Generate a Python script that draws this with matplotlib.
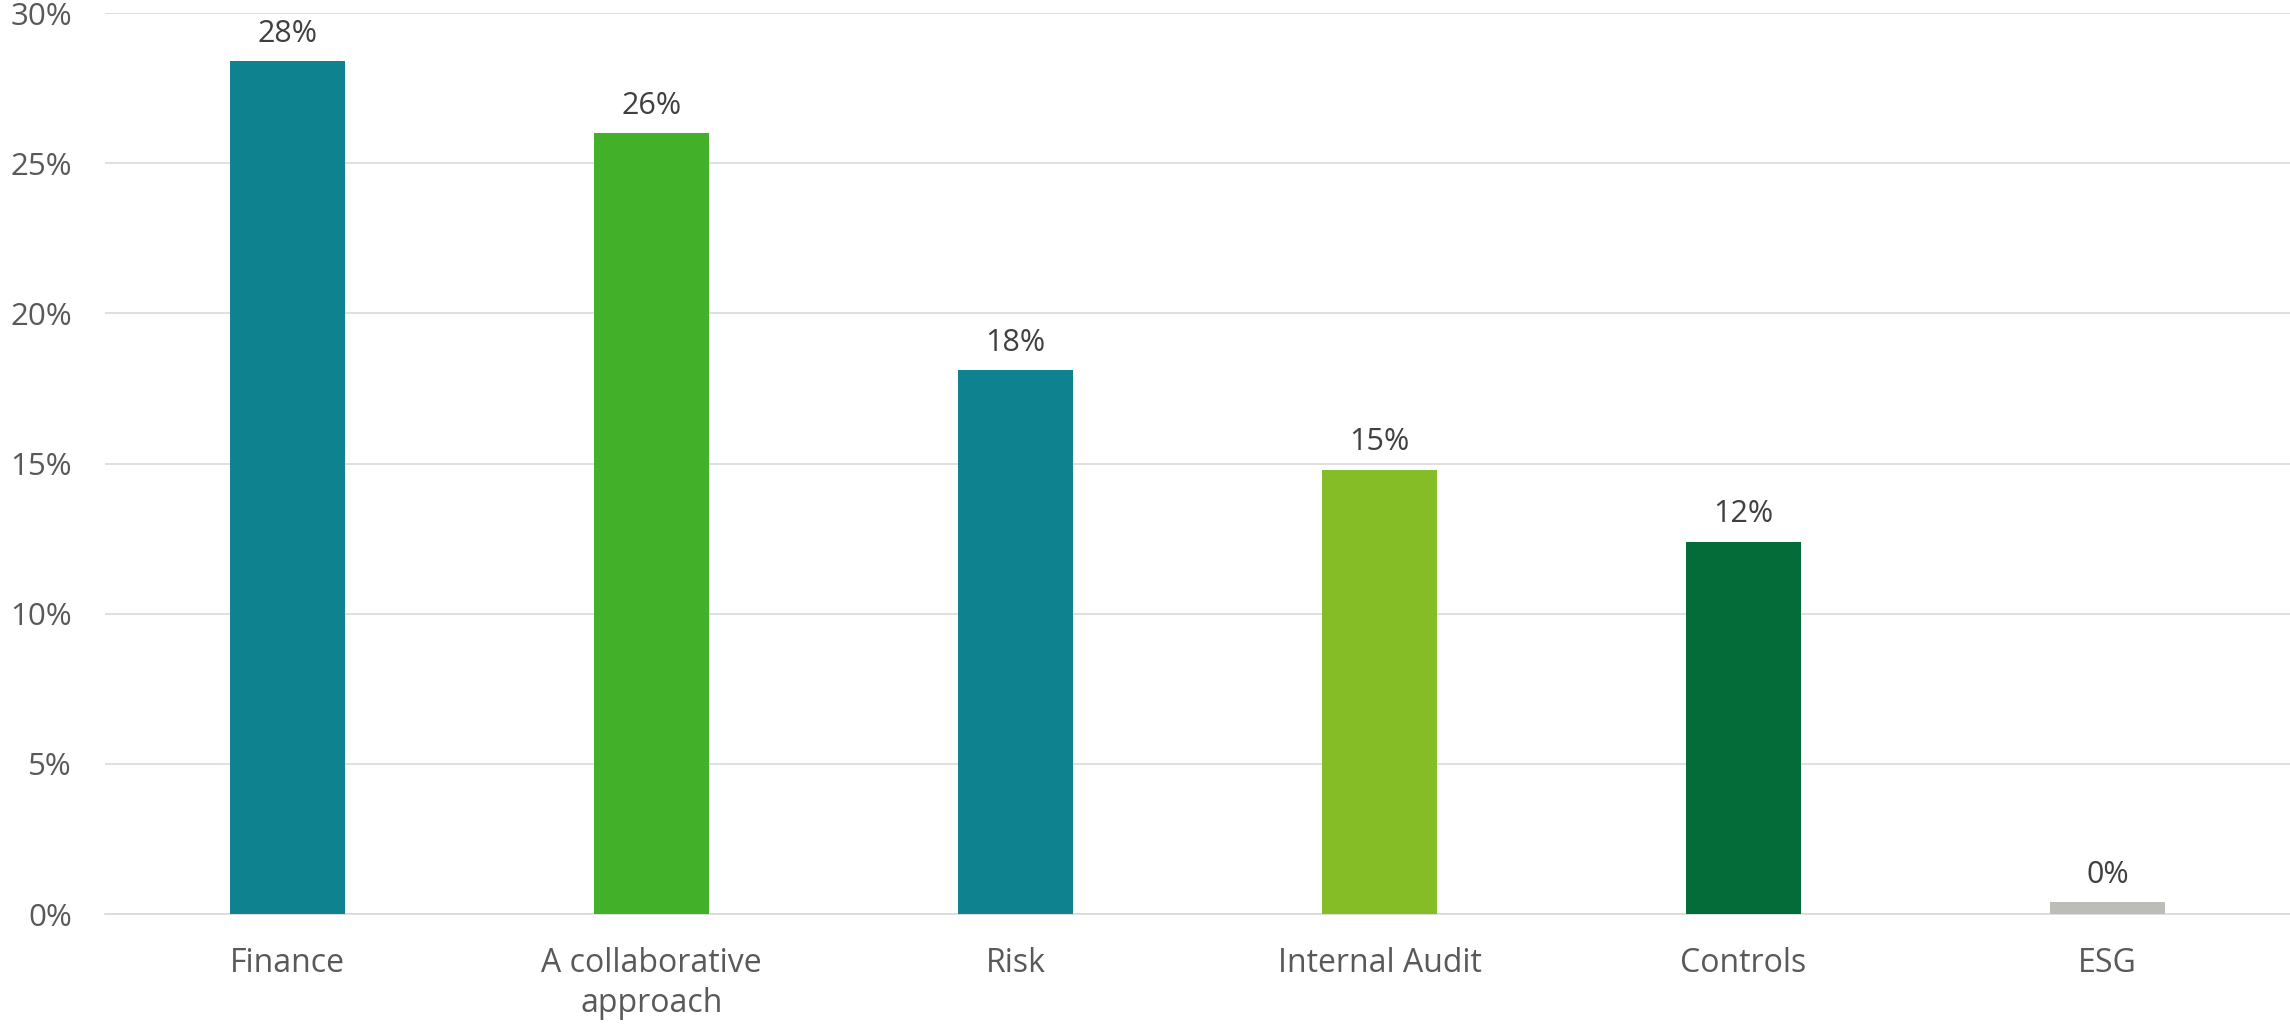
import matplotlib.pyplot as plt
from matplotlib.ticker import PercentFormatter

plt.rcParams['font.family'] = ['Open Sans', 'DejaVu Sans']

categorias = ['Finance', 'A collaborative\napproach', 'Risk', 'Internal Audit', 'Controls', 'ESG']
valores = [28.4, 26.0, 18.1, 14.8, 12.4, 0.4]
etiquetas = ['28%', '26%', '18%', '15%', '12%', '0%']
colores = ['#0E838F', '#43B02A', '#0E838F', '#84BD25', '#036C38', '#BDBDB8']
yticks = [0, 5, 10, 15, 20, 25, 30]

fig = plt.figure(figsize=(22.9, 10.27), dpi=100)
ax = fig.add_axes([0.0459, 0.110, 0.954, 0.8773])

x = range(len(categorias))
barras = ax.bar(x, valores, width=0.316, color=colores, zorder=3)

# etiquetas encima de cada barra
for b, txt in zip(barras, etiquetas):
    ax.annotate(txt, (b.get_x() + b.get_width() / 2, b.get_height()),
                xytext=(0, 9), textcoords='offset points',
                ha='center', va='bottom', fontsize=22, color='#404040')

ax.set_xlim(-0.5, len(categorias) - 0.5)
ax.set_ylim(0, 30)
ax.set_yticks(yticks)
ax.yaxis.set_major_formatter(PercentFormatter(decimals=0))
ax.set_xticks(list(x))
ax.set_xticklabels(categorias, linespacing=1.25)

ax.grid(axis='y', color='#D9D9D9', linewidth=1.2, zorder=0)
for s in ['top', 'right', 'left']:
    ax.spines[s].set_visible(False)
ax.spines['bottom'].set_color('#D9D9D9')
ax.spines['bottom'].set_linewidth(1.2)

ax.tick_params(axis='x', length=0, labelsize=23, colors='#595959', pad=24)
ax.tick_params(axis='y', length=0, labelsize=22.5, colors='#595959', pad=24)

fig.savefig('out.png', dpi=100)
